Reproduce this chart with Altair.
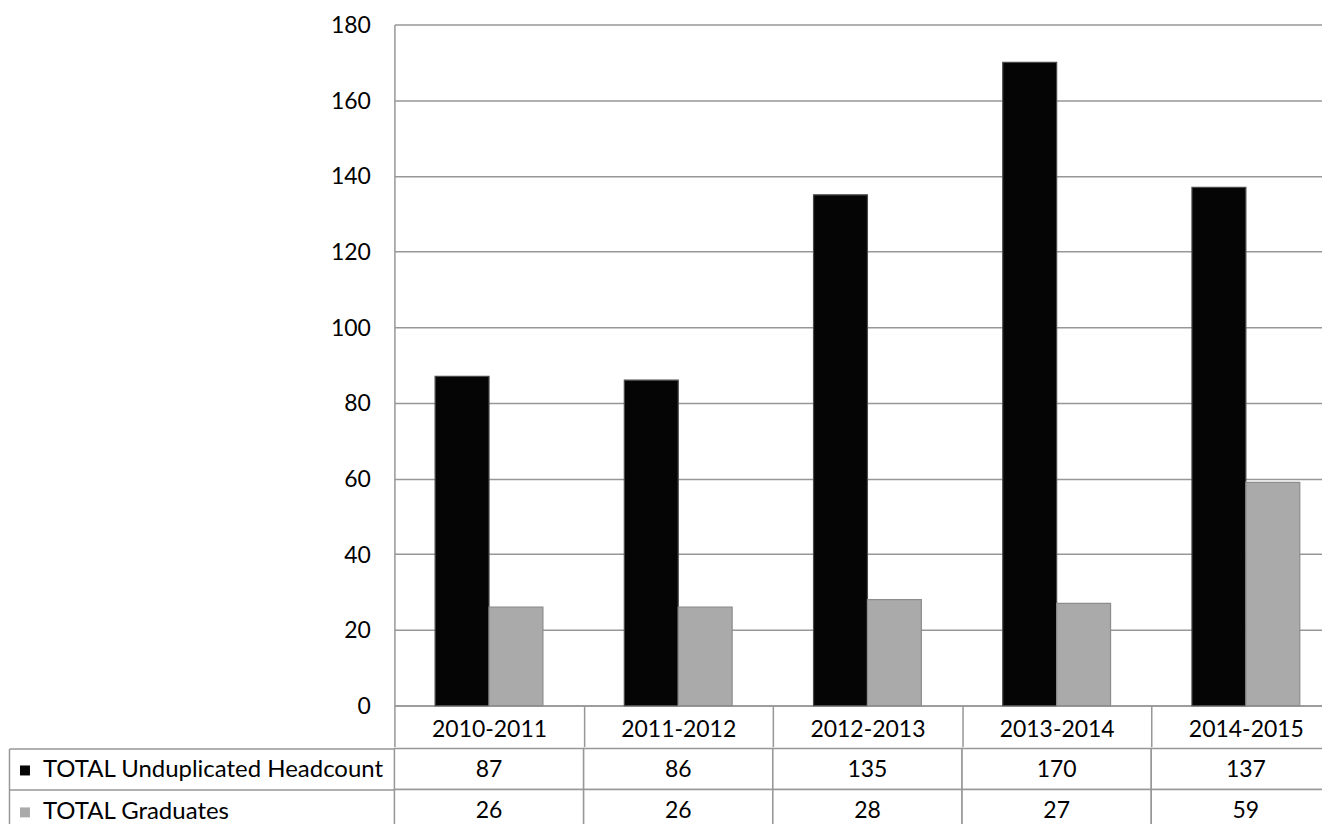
import altair as alt
import pandas as pd

years = ["2010-2011", "2011-2012", "2012-2013", "2013-2014", "2014-2015"]
series = ["TOTAL Unduplicated Headcount", "TOTAL Graduates"]
headcount = [87, 86, 135, 170, 137]
graduates = [26, 26, 28, 27, 59]
y_ticks = [0, 20, 40, 60, 80, 100, 120, 140, 160, 180]

rows = []
for i, yr in enumerate(years):
    rows.append({"year": yr, "series": series[0], "value": headcount[i]})
    rows.append({"year": yr, "series": series[1], "value": graduates[i]})
df = pd.DataFrame(rows)

FONT = "Lato"
FS = 23
GRID = "#979797"
BAND = 189.5
PLOT_W = BAND * 5
PLOT_H = 682
ROW_H = 41
LABEL_COL = 386

bars = alt.Chart(df).mark_bar(strokeWidth=1.2).encode(
    x=alt.X("year:N", sort=years, title=None,
            scale=alt.Scale(paddingInner=0, paddingOuter=0),
            axis=alt.Axis(orient="bottom", labelAngle=0, tickBand="extent",
                          tickSize=ROW_H, tickColor=GRID, tickWidth=1.5,
                          domainColor=GRID, domainWidth=1.5,
                          labelPadding=-17.5, labelBaseline="middle",
                          labelFontSize=FS, labelFont=FONT, labelColor="black",
                          grid=False)),
    xOffset=alt.XOffset("series:N", sort=series,
                        scale=alt.Scale(paddingOuter=0.755, paddingInner=0)),
    y=alt.Y("value:Q", title=None, scale=alt.Scale(domain=[0, 180]),
            axis=alt.Axis(values=y_ticks, ticks=False, labelPadding=24,
                          labelOffset=1,
                          labelFontSize=FS, labelFont=FONT, labelColor="black",
                          domainColor=GRID, domainWidth=1.5,
                          gridColor=GRID, gridWidth=1.5)),
    fill=alt.Fill("series:N", sort=series,
                  scale=alt.Scale(domain=series, range=["#050505", "#aaaaaa"]),
                  legend=alt.Legend(title=None, orient="none", legendX=-382, legendY=735,
                                    symbolType="square", symbolSize=100,
                                    symbolStrokeWidth=0, labelFont=FONT,
                                    labelFontSize=24, labelColor="black",
                                    labelLimit=400, labelOffset=6, rowPadding=18)),
    stroke=alt.Stroke("series:N", sort=series,
                      scale=alt.Scale(domain=series, range=["#4a4a4a", "#8c8c8c"]),
                      legend=None),
).properties(width=PLOT_W, height=PLOT_H)

tbase = alt.Chart(df).encode(
    x=alt.X("year:N", sort=years, title=None,
            scale=alt.Scale(paddingInner=0, paddingOuter=0), axis=None),
)
cells = tbase.mark_rect(fill="white", stroke=GRID, strokeWidth=1.5).encode(
    y=alt.Y("series:N", sort=series, title=None,
            scale=alt.Scale(paddingInner=0, paddingOuter=0),
            axis=alt.Axis(labels=False, tickBand="extent", tickSize=LABEL_COL,
                          tickColor=GRID, tickWidth=1.5, domain=False))
)
texts = tbase.mark_text(font=FONT, fontSize=FS, color="black", dy=1).encode(
    y=alt.Y("series:N", sort=series, title=None,
            scale=alt.Scale(paddingInner=0, paddingOuter=0),
            axis=alt.Axis(orient="left", offset=LABEL_COL, labels=False, ticks=False,
                          domain=True, domainColor=GRID, domainWidth=1.5)),
    text="value:Q",
)
table = alt.layer(cells, texts).resolve_axis(y="independent").properties(
    width=PLOT_W, height=ROW_H * 2)

chart = alt.vconcat(bars, table, spacing=0).properties(
    padding={"left": 0, "top": 6, "right": -20.5, "bottom": 0}
).configure_view(stroke=None)

chart.save("out.html", embed_options={"renderer": "svg", "actions": False})
